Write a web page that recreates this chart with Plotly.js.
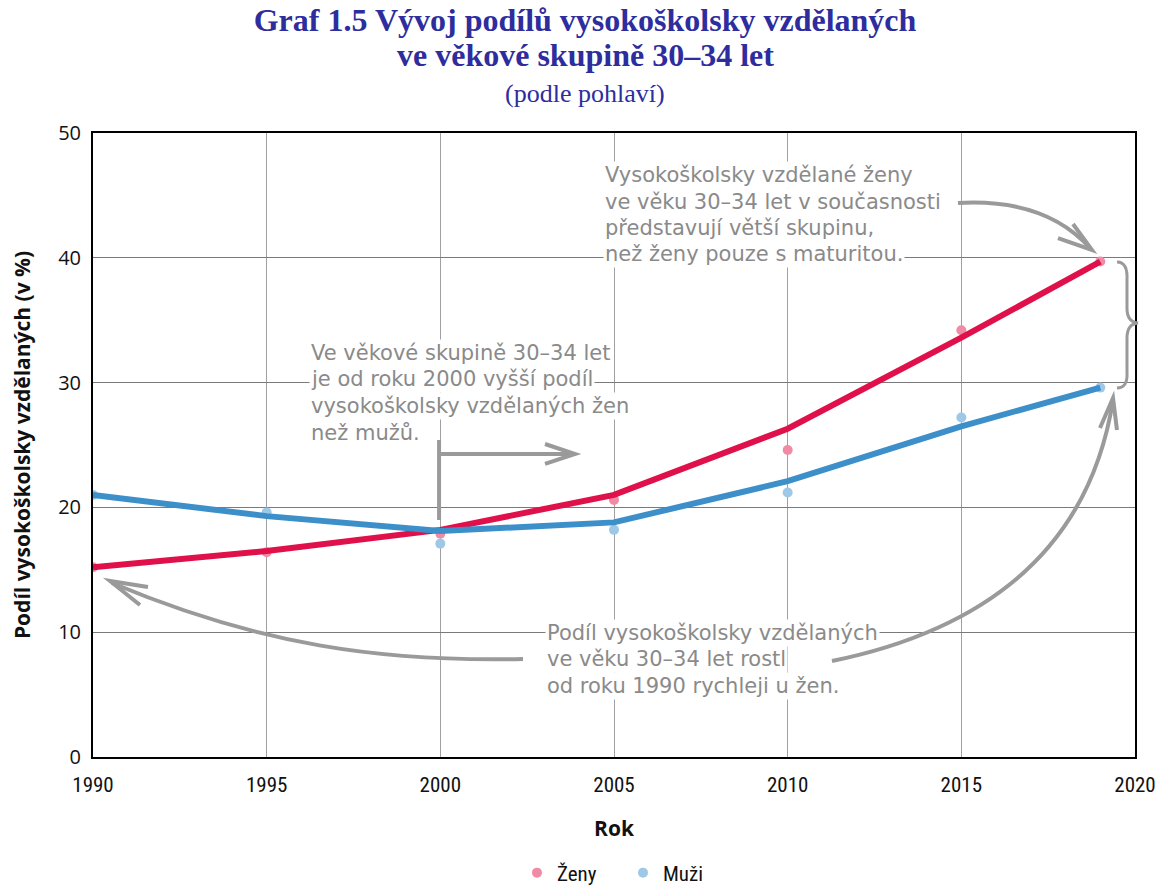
<!DOCTYPE html>
<html>
<head>
<meta charset="utf-8">
<script src="https://cdn.plot.ly/plotly-3.0.1.min.js"></script>
<style>body{margin:0;background:#fff}#chart{width:1167px;height:892px}</style>
</head>
<body>
<div id="chart"></div>
<script>
// ---- data ----
const years = [1990, 1995, 2000, 2005, 2010, 2015, 2019];
const zenyValues = [15.2, 16.4, 17.9, 20.6, 24.6, 34.2, 39.7];
const muziValues = [21.0, 19.6, 17.1, 18.2, 21.2, 27.2, 29.6];
const zenyTrend = [15.2, 16.5, 18.2, 21.0, 26.3, 33.6, 39.7];
const muziTrend = [21.0, 19.3, 18.1, 18.8, 22.1, 26.5, 29.6];
const seriesNames = ['Ženy', 'Muži'];
const xTicks = [1990, 1995, 2000, 2005, 2010, 2015, 2020];
const yTicks = [0, 10, 20, 30, 40, 50];

// ---- layout helpers (pixel -> paper for decorative arrows) ----
const M = {l: 93, r: 32, t: 133, b: 135};
const W = 1167, H = 892;
const PW = W - M.l - M.r, PH = H - M.t - M.b;
function px(x) { return ((x - M.l) / PW).toFixed(4); }
function py(y) { return ((H - M.b - y) / PH).toFixed(4); }
function path(cmds) {
  return cmds.map(c => {
    const op = c[0]; const pts = [];
    for (let i = 1; i < c.length; i += 2) pts.push(px(c[i]) + ',' + py(c[i + 1]));
    return op + ' ' + pts.join(' ');
  }).join(' ');
}
const arrowColor = '#9a9a9a';
function shp(cmds, w) {
  return {type: 'path', xref: 'paper', yref: 'paper', path: path(cmds),
          line: {color: arrowColor, width: w || 4}, layer: 'above'};
}

const red = '#e0104a', blue = '#3d8fca';
const pink = '#f08aa5', lightBlue = '#9ec8e8';
const titleColor = '#2d2d9e';
const titleX = px(585);

const traces = [
  {x: years, y: zenyValues, name: seriesNames[0], mode: 'markers', type: 'scatter',
   marker: {color: pink, size: 10}},
  {x: years, y: muziValues, name: seriesNames[1], mode: 'markers', type: 'scatter',
   marker: {color: lightBlue, size: 10}},
  {x: years, y: zenyTrend, mode: 'lines', type: 'scatter', showlegend: false, hoverinfo: 'skip',
   line: {color: red, width: 6}},
  {x: years, y: muziTrend, mode: 'lines', type: 'scatter', showlegend: false, hoverinfo: 'skip',
   line: {color: blue, width: 6}}
];

const noteFont = {family: '"DejaVu Sans", sans-serif', size: 21, color: '#8a8a8a'};
function note(x, y, text) {
  return {xref: 'paper', yref: 'paper', x: px(x), y: py(y), xanchor: 'left', yanchor: 'middle',
          align: 'left', showarrow: false, text: text, font: noteFont, bgcolor: '#ffffff',
          borderpad: 1};
}
const note1 = ['Vysokoškolsky vzdělané ženy', 've věku 30–34 let v současnosti',
               'představují větší skupinu,', 'než ženy pouze s maturitou.'];
const note2 = ['Ve věkové skupině 30–34 let', 'je od roku 2000 vyšší podíl',
               'vysokoškolsky vzdělaných žen', 'než mužů.'];
const note3 = ['Podíl vysokoškolsky vzdělaných', 've věku 30–34 let rostl',
               'od roku 1990 rychleji u žen.'];
const notes = [];
note1.forEach((t, i) => notes.push(note(603, 175 + i * 26.5, t)));
note2.forEach((t, i) => notes.push(note(309, 353 + i * 26.5, t)));
note3.forEach((t, i) => notes.push(note(545, 633 + i * 26.5, t)));

const layout = {
  width: W, height: H,
  margin: M,
  paper_bgcolor: '#ffffff', plot_bgcolor: '#ffffff',
  title: {
    text: '<b>Graf 1.5 Vývoj podílů vysokoškolsky vzdělaných</b>',
    font: {family: '"Liberation Serif", "DejaVu Serif", serif', size: 32, color: titleColor},
    x: titleX, xanchor: 'center', xref: 'paper', y: (H - 20) / H, yanchor: 'middle', yref: 'container'
  },
  xaxis: {
    range: [1990, 2020], tickvals: xTicks, ticktext: xTicks.map(String),
    showgrid: true, gridcolor: '#a0a0a0', gridwidth: 1,
    showline: true, linecolor: '#000', linewidth: 2, mirror: true,
    ticks: '', zeroline: false, ticklabelstandoff: 8,
    tickfont: {family: '"Liberation Sans Narrow", "Roboto Condensed", sans-serif', size: 21, color: '#111'},
    title: {text: '<b>Rok</b>', font: {family: '"Open Sans", sans-serif', size: 21, color: '#111'}, standoff: 25},
    automargin: false, fixedrange: true
  },
  yaxis: {
    range: [0, 50], tickvals: yTicks,
    showgrid: true, gridcolor: '#7a7a7a', gridwidth: 1,
    showline: true, linecolor: '#000', linewidth: 2, mirror: true,
    ticks: '', zeroline: false, ticklabelstandoff: 6,
    tickfont: {family: '"Open Sans", sans-serif', size: 20, color: '#111'},
    title: {text: '<b>Podíl vysokoškolsky vzdělaných (v %)</b>', font: {family: '"Open Sans", sans-serif', size: 21, color: '#111'}, standoff: 22},
    automargin: false, fixedrange: true
  },
  legend: {orientation: 'h', x: 517 / W, xanchor: 'left', xref: 'container',
           y: 19 / H, yanchor: 'middle', yref: 'container',
           entrywidth: 61, entrywidthmode: 'pixels',
           font: {family: '"Liberation Sans Narrow", "Roboto Condensed", sans-serif', size: 21, color: '#111'}},
  annotations: [
    {xref: 'paper', yref: 'paper', x: titleX, y: py(55), xanchor: 'center', yanchor: 'middle',
     showarrow: false, text: '<b>ve věkové skupině 30–34 let</b>',
     font: {family: '"Liberation Serif", "DejaVu Serif", serif', size: 32, color: titleColor}},
    {xref: 'paper', yref: 'paper', x: titleX, y: py(93), xanchor: 'center', yanchor: 'middle',
     showarrow: false, text: '(podle pohlaví)',
     font: {family: '"Liberation Serif", serif', size: 26, color: titleColor}}
  ].concat(notes),
  shapes: [
    // top-right arrow
    shp([['M', 958, 203], ['Q', 1045, 198, 1090, 248]]),
    shp([['M', 1058, 238], ['L', 1092, 250], ['L', 1073, 224]]),
    // curly brace
    shp([['M', 1117, 262], ['Q', 1128, 262, 1127, 280], ['L', 1127, 308], ['Q', 1127, 322, 1138, 323],
         ['Q', 1127, 324, 1127, 338], ['L', 1127, 372], ['Q', 1128, 388, 1117, 388]], 3),
    // bottom-right arrow
    shp([['M', 832, 661], ['Q', 1080, 610, 1113, 400]]),
    shp([['M', 1100, 428], ['L', 1113, 398], ['L', 1117, 430]]),
    // bottom-left arrow
    shp([['M', 523, 659], ['C', 380, 662, 260, 645, 112, 583]]),
    shp([['M', 148, 587], ['L', 110, 581], ['L', 140, 605]]),
    // 2000 marker arrow
    shp([['M', 439, 440], ['L', 439, 520]]),
    shp([['M', 441, 454], ['L', 574, 454]]),
    shp([['M', 545, 444], ['L', 575, 454], ['L', 545, 464]])
  ]
};

Plotly.newPlot('chart', traces, layout, {displayModeBar: false, staticPlot: true});
</script>
</body>
</html>
